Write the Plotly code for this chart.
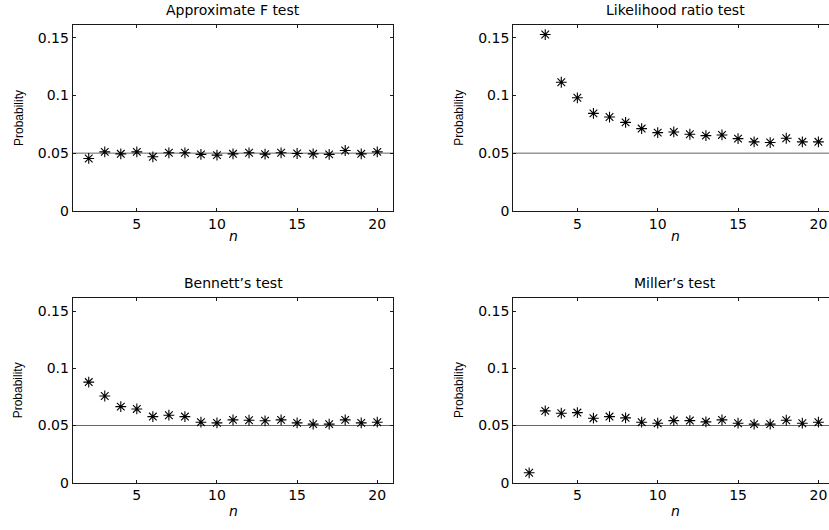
import plotly.graph_objects as go

# ---- data ----
n_values = list(range(2, 21))

approx_f = [0.0454, 0.0511, 0.0494, 0.0511, 0.0468, 0.0503, 0.0503, 0.0489, 0.0483,
            0.0494, 0.0503, 0.0491, 0.0503, 0.0497, 0.0494, 0.0489, 0.0523, 0.0494, 0.0511]

likelihood_n = list(range(3, 21))
likelihood = [0.1529, 0.1115, 0.0980, 0.0845, 0.0813, 0.0767, 0.0713, 0.0678, 0.0684,
              0.0664, 0.0652, 0.0658, 0.0626, 0.0598, 0.0592, 0.0629, 0.0598, 0.0598]

bennett = [0.0880, 0.0758, 0.0665, 0.0645, 0.0578, 0.0590, 0.0578, 0.0529, 0.0523,
           0.0549, 0.0546, 0.0541, 0.0549, 0.0523, 0.0512, 0.0512, 0.0549, 0.0523, 0.0529]

miller = [0.0086, 0.0628, 0.0607, 0.0613, 0.0564, 0.0578, 0.0567, 0.0529, 0.0520,
          0.0543, 0.0543, 0.0532, 0.0549, 0.0520, 0.0512, 0.0512, 0.0546, 0.0520, 0.0529]

titles = ["Approximate F test", "Likelihood ratio test", "Bennett\u2019s test", "Miller\u2019s test"]
ALPHA = 0.05
y_ticks = [0, 0.05, 0.1, 0.15]
y_tick_text = ["0", "0.05", "0.1", "0.15"]
x_ticks = [5, 10, 15, 20]

# ---- layout geometry ----
W, H = 829, 530
col_dom = [[72.7 / W, 393.3 / W], [513.1 / W, 1.0]]
row_dom = [[1 - 214 / H, 1 - 25 / H], [1 - 490 / H, 1 - 302.7 / H]]
x_ranges = [[1, 21], [1, 20.66]]
y_range = [0, 0.1615]

series = [(n_values, approx_f), (likelihood_n, likelihood), (n_values, bennett), (n_values, miller)]

fig = go.Figure()
tick_font = dict(family="DejaVu Sans", size=14, color="black")
line_col = "#1a1a1a"
annotations = []
shapes = []

for i, (xs, ys) in enumerate(series):
    r, c = divmod(i, 2)
    k = "" if i == 0 else str(i + 1)
    fig.add_trace(go.Scatter(
        x=xs, y=ys, mode="markers", xaxis="x" + k, yaxis="y" + k,
        marker=dict(symbol="asterisk-open", size=9, color="black",
                    line=dict(color="black", width=1.1)),
        showlegend=False, hoverinfo="x+y", cliponaxis=False))
    fig.layout["xaxis" + k] = dict(
        domain=col_dom[c], range=x_ranges[c], anchor="y" + k,
        tickvals=x_ticks, ticks="inside", ticklen=3, tickcolor=line_col,
        showline=True, linecolor=line_col, linewidth=1,
        mirror="ticks", showgrid=False, zeroline=False, tickfont=tick_font)
    fig.layout["yaxis" + k] = dict(
        domain=row_dom[r], range=y_range, anchor="x" + k,
        tickvals=y_ticks, ticktext=y_tick_text, ticks="inside", ticklen=3, tickcolor=line_col,
        showline=True, linecolor=line_col, linewidth=1,
        mirror="ticks" if c == 0 else False, showgrid=False, zeroline=False,
        tickfont=tick_font)
    shapes.append(dict(type="line", xref="x" + k + " domain", yref="y" + k,
                       x0=0, x1=1, y0=ALPHA, y1=ALPHA,
                       line=dict(color="#666666", width=1), layer="below"))
    xc = (233 if c == 0 else 675) / W
    title_y = (10.5 if r == 0 else 287)
    annotations.append(dict(text=titles[i], x=xc, y=1 - title_y / H, xref="paper", yref="paper",
                            showarrow=False, xanchor="center", yanchor="middle",
                            font=dict(family="DejaVu Sans", size=14, color="black")))
    n_y = (240 if r == 0 else 519)
    annotations.append(dict(text="<i>n</i>", x=xc, y=1 - n_y / H, xref="paper", yref="paper",
                            showarrow=False, xanchor="center", yanchor="middle",
                            font=dict(family="DejaVu Sans", size=14, color="black")))
    py = (119.5 if r == 0 else 396)
    px = (18.3 if c == 0 else 459)
    annotations.append(dict(text="Probability", x=px / W, y=1 - py / H, xref="paper", yref="paper",
                            showarrow=False, textangle=-90, xanchor="center", yanchor="middle",
                            font=dict(family="Liberation Sans", size=12, color="black")))

fig.update_layout(
    width=W, height=H, autosize=False,
    margin=dict(l=0, r=0, t=0, b=0),
    paper_bgcolor="white", plot_bgcolor="white",
    annotations=annotations, shapes=shapes,
)

fig.write_html("out.html", config={"displayModeBar": False},
               post_script="document.body.style.margin='0';document.body.style.overflow='hidden';")
